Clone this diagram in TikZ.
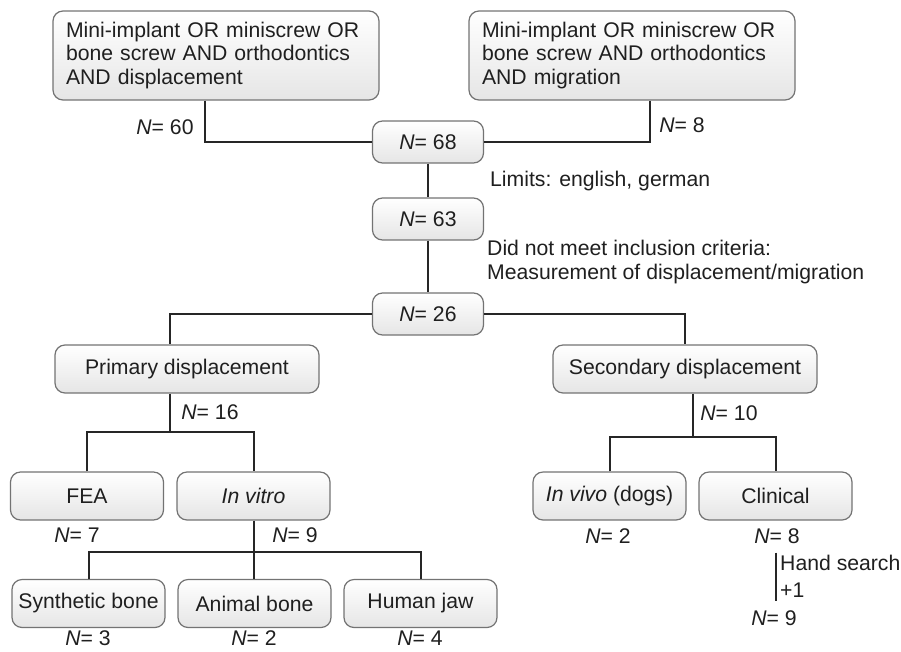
\documentclass[tikz,border=0pt]{standalone}
\usepackage{fontspec}
\setmainfont{Liberation Sans}
\usetikzlibrary{calc}
\tikzstyle{every node}=[font=\fontsize{21.2}{23.5}\selectfont,text=black!88]
\tikzstyle{box}=[draw=black!55,line width=1.2pt,rounded corners=10pt,top color=white,bottom color=black!10,inner sep=0pt]
\tikzstyle{search}=[box,align=left,text width=300pt,inner xsep=13pt,minimum height=89pt]
\tikzstyle{count}=[box,minimum width=111pt,minimum height=42pt]
\tikzstyle{wide}=[box,minimum width=264pt,minimum height=48pt]
\tikzstyle{small}=[box,minimum width=153pt,minimum height=48pt]
\tikzstyle{link}=[draw=black!85,line width=2pt]
\tikzstyle{note}=[inner sep=0pt]

\begin{document}
\begin{tikzpicture}[x=1pt,y=-1pt]
\useasboundingbox (0,0) rectangle (901,651);
% search strings
\node[search] (S1) at (216,55.5) {Mini-implant OR miniscrew OR\\bone screw AND orthodontics\\AND displacement};
\node[search] (S2) at (632,55.5) {Mini-implant OR miniscrew OR\\bone screw AND orthodontics\\AND migration};
% counts
\node[count] (N1) at (428,142) {\textit{N}= 68};
\node[count] (N2) at (428,219) {\textit{N}= 63};
\node[count] (N3) at (428,314) {\textit{N}= 26};
% groups
\node[wide] (P) at (187,369) {Primary displacement};
\node[wide] (Q) at (685,369) {Secondary displacement};
\node[small] (P1) at (87,496) {FEA};
\node[small] (P2) at (253.5,496) {\textit{In vitro}};
\node[small] (Q1) at (609.5,496) {\textit{In vivo} (dogs)};
\node[small] (Q2) at (775.5,496) {Clinical};
\node[small] (V1) at (88.5,603.5) {Synthetic bone};
\node[small] (V2) at (254.5,603.5) {Animal bone};
\node[small] (V3) at (420.5,603.5) {Human jaw};

% labels
\node[note] (c60) at (165,127) {\textit{N}= 60};
\node[note] (c8t) at (682,125) {\textit{N}= 8};
\node[note,anchor=base west] (lim) at (490,186) {Limits: english, german};
\node[note,anchor=base west] (crit1) at (487,255.5) {Did not meet inclusion criteria:};
\node[note,anchor=base west] (crit2) at (487,279.5) {Measurement of displacement/migration};
\node[note] (c16) at (210,412) {\textit{N}= 16};
\node[note] (c10) at (729,413) {\textit{N}= 10};
\node[note] (c7) at (77,535) {\textit{N}= 7};
\node[note] (c9a) at (295,535) {\textit{N}= 9};
\node[note] (c2a) at (608,536) {\textit{N}= 2};
\node[note] (c8) at (777,536) {\textit{N}= 8};
\node[note] (c9b) at (774,618) {\textit{N}= 9};
\node[note] (c3) at (88,638) {\textit{N}= 3};
\node[note] (c2b) at (254,638) {\textit{N}= 2};
\node[note] (c4) at (420,638) {\textit{N}= 4};
\node[note,anchor=base west] (hs1) at (780,570.5) {Hand search};
\node[note,anchor=base west] (hs2) at (780,597.5) {+1};

% connectors
\coordinate (pj) at ($(P1.north)!0.5!(P2.north)+(0,-39)$);
\coordinate (qj) at ($(Q1.north)!0.5!(Q2.north)+(0,-34)$);
\coordinate (h1) at ($(Q2.south)+(0,32)$);
\coordinate (h2) at ($(Q2.south)+(0,80)$);
\draw[link] ([xshift=-11pt]S1.south) |- (N1.west);
\draw[link] ([xshift=18pt]S2.south) |- (N1.east);
\draw[link] (N1.south) -- (N2.north);
\draw[link] (N2.south) -- (N3.north);
\draw[link] (N3.west) -| (P.north -| pj);
\draw[link] (N3.east) -| (Q.north);
\draw[link] (P.south -| pj) -- (pj);
\draw[link] (P1.north) |- (pj) -| (P2.north);
\draw[link] (Q.south -| qj) -- (qj);
\draw[link] (Q1.north) |- (qj) -| (Q2.north);
\draw[link] (P2.south) -- (P2.south |- V2.north);
\draw[link] (V1.north) -- ++(0,-27) -| (V3.north);
\draw[link] (h1) -- (h2);
\end{tikzpicture}
\end{document}
